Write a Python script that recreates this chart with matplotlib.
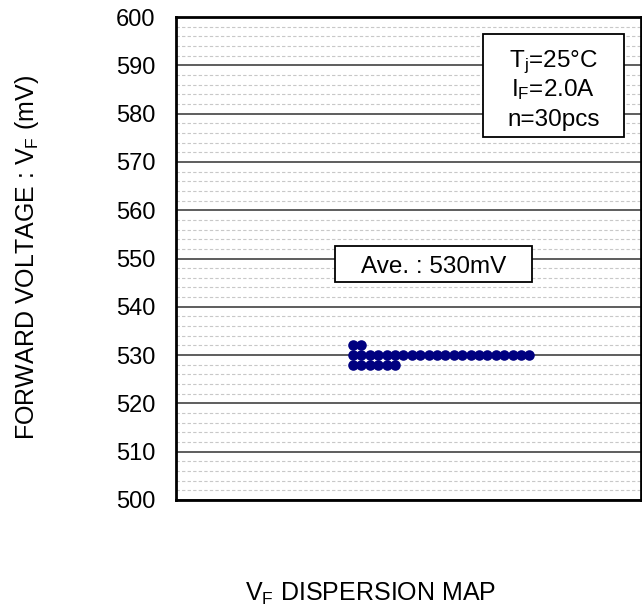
import numpy as np
import matplotlib.pyplot as plt
from matplotlib.patches import Rectangle
from matplotlib.ticker import MultipleLocator, NullLocator

plt.rcParams['font.family'] = ['Liberation Sans', 'DejaVu Sans']

# VF dispersion values (mV) -> count of samples at each level
vf_levels = [532, 530, 528]
vf_counts = [2, 22, 6]
ave_vf = 530

yticks = [500, 510, 520, 530, 540, 550, 560, 570, 580, 590, 600]

xs = []
ys = []
for lv, cnt in zip(vf_levels, vf_counts):
    for i in range(cnt):
        xs.append(i)
        ys.append(lv)

fig = plt.figure(figsize=(6.42, 6.06), dpi=100)
ax = fig.add_axes([176/642, 1 - 500/606, 465/642, 483/606])

ax.set_ylim(500, 600)
ax.set_xlim(-21.07, 34.3)
ax.set_yticks(yticks)
ax.yaxis.set_minor_locator(MultipleLocator(2))
ax.xaxis.set_major_locator(NullLocator())
ax.grid(which='major', axis='y', color='#505050', linewidth=1.3)
ax.grid(which='minor', axis='y', color='#c8c8c8', linewidth=0.8, linestyle=(0, (3, 2)))
ax.tick_params(axis='y', which='both', length=0, labelsize=17, pad=15)
ax.set_axisbelow(True)
for s in ax.spines.values():
    s.set_linewidth(2)
    s.set_color('black')

ax.plot(xs, ys, 'o', color='#000080', markersize=7.6, markeredgewidth=0)

# average box
ax.add_patch(Rectangle((0.342, 0.4513), 0.4236, 0.0746, transform=ax.transAxes,
                       fc='white', ec='black', lw=1.3, zorder=3))
ax.text(0.5538, 0.4694, 'Ave. : %dmV' % ave_vf, transform=ax.transAxes,
        fontsize=17.5, ha='center', va='baseline', zorder=4)

# condition box
ax.add_patch(Rectangle((0.660, 0.752), 0.303, 0.213, transform=ax.transAxes,
                       fc='white', ec='black', lw=1.3, zorder=3))
cond = ['$\\mathregular{T_j}$=25°C', '$\\mathregular{I_F}$=2.0A', 'n=30pcs']
for txt, yb in zip(cond, [0.8965, 0.8364, 0.7743]):
    ax.text(0.8118, yb, txt, transform=ax.transAxes, fontsize=17.5,
            ha='center', va='baseline', zorder=4)

fig.text(27/642, 1 - 258/606, 'FORWARD VOLTAGE : $\\mathregular{V_F}$ (mV)',
         rotation=90, ha='center', va='center', fontsize=18)
fig.text(371/642, 1 - 601/606, '$\\mathregular{V_F}$ DISPERSION MAP',
         ha='center', va='baseline', fontsize=18)

fig.savefig('out.png', dpi=100)
